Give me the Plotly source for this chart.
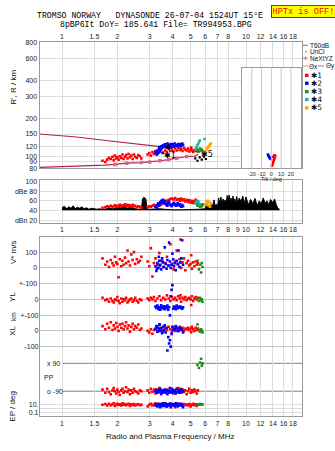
import math
import plotly.graph_objects as go

W, H = 335, 451

# ---------------- data ----------------
top_ticks = [1, 1.5, 2, 3, 4, 5, 6, 7, 8, 10, 12, 14, 16, 18]
top_ticktext = ["1", "1.5", "2", "3", "4", "5", "6", "7", "8", "10", "12", "14", "16", "18"]
amp_ticks = [1, 1.5, 2, 3, 4, 5, 6, 7, 8, 9, 10, 12, 14, 16, 18]
amp_ticktext = ["1", "1.5", "2", "3", "4", "5", "6", "7", "8", "9", "10", "12", "14", "16", "18"]
range_ticks = [80, 90, 100, 120, 150, 200, 300, 400, 600, 800]
db_ticks = [20, 40, 60, 80, 100]
db_ticktext = ["dBn 20", "40", "60", "dBe 80", "100"]

# red echoes (low + high frequency groups)
red_f = [1.66, 1.72, 1.76, 1.80, 1.84, 1.88, 1.91, 1.94, 1.97, 2.00, 2.03, 2.06, 2.10, 2.13, 2.16, 2.20, 2.23, 2.27, 2.30, 2.34,
         2.38, 2.42, 2.46, 2.50, 2.55, 2.60, 2.65, 2.70,
         2.92, 2.98, 3.04, 3.10, 3.16, 3.22, 3.30, 3.38, 3.46, 3.55, 3.64, 3.72, 3.80, 3.88, 3.96, 4.04, 4.12, 4.20, 4.28, 4.36,
         4.44, 4.52, 4.60, 4.68, 4.76, 4.84, 4.92, 5.00, 5.08, 5.16, 5.24, 5.32, 5.40, 5.48, 5.04, 4.40]
red_h = [92, 90, 94, 97, 95, 99, 93, 101, 96, 98, 94, 100, 97, 103, 95, 99, 102, 96, 104, 98,
         101, 95, 103, 99, 97, 102, 100, 96,
         103, 106, 101, 108, 104, 110, 106, 109, 112, 107, 111, 108, 114, 110, 113, 109, 115, 111, 117, 112,
         114, 110, 116, 113, 111, 115, 109, 113, 111, 108, 112, 110, 114, 109, 117, 119]
red_amp = [46, 47, 49, 48, 50, 47, 49, 51, 48, 50, 49, 52, 48, 51, 50, 53, 49, 52, 50, 51,
           48, 52, 49, 50, 47, 49, 48, 46,
           47, 49, 48, 50, 52, 49, 51, 50, 53, 55, 57, 60, 62, 64, 65, 63, 66, 62, 64, 60,
           65, 61, 63, 59, 62, 58, 61, 57, 60, 56, 59, 62, 55, 58, 57, 63]
red_vs = [60, 20, 40, 5, 50, 30, 15, 70, 35, 25, -60, 55, 10, 45, 20, 65, 30, 110, 40, 15,
          85, 50, 100, 25, 55, 35, 45, 70,
          40, 10, 125, -55, 30, 60, 20, 95, 45, 5, 30, 70, 15, 150, 25, -10, 40, 110, 20, 55,
          0, 35, 60, -15, 30, 45, 15, 25, -5, 35, 10, 40, 20, 30, 80, 180]
red_yl = [10, -5, 0, -15, 5, -10, -20, 0, -5, 15, -10, -25, 5, -15, 0, -5, 10, -20, -10, 0,
          5, -15, -5, 10, -10, -20, 0, -5,
          5, -5, 10, 0, 15, -10, 5, 20, -5, 10, 0, 25, 5, -10, 15, 0, 10, -5, 20, 5,
          -15, 10, 0, 15, -5, 5, 10, 0, 20, -10, 5, 15, 0, 10, -36, 25]
red_xl = [30, 10, 45, 20, 55, 5, 35, 15, 50, 25, 0, 40, 20, 45, 10, 30, 55, 15, 35, -5,
          25, 45, 10, 30, 20, 40, 5, 15,
          0, -10, 10, -18, 5, 15, -5, 10, 20, 0, 15, 5, 25, 10, -5, 20, 0, 15, 10, 25,
          5, 20, 0, 15, 10, 20, 5, 15, 25, 10, 0, 20, 5, 15, -8, 23]
red_pp = [-80, -100, -75, -95, -110, -85, -70, -90, -105, -80, -95, -115, -85, -75, -100, -90, -65, -95, -80, -110,
          -85, -100, -75, -90, -95, -105, -85, -90,
          -85, -100, -75, -95, -80, -105, -90, -70, -110, -85, -95, -80, -100, -90, -75, -105, -85, -95, -70, -90,
          -100, -80, -95, -85, -110, -90, -75, -100, -85, -95, -80, -90, -105, -85, -95, -75]
red_ep = [8, 12, 5, 15, 6, 10, 20, 4, 9, 14, 7, 11, 5, 18, 8, 12, 6, 9, 15, 4,
          10, 7, 13, 5, 9, 11, 6, 8,
          3, 8, 15, 5, 10, 20, 4, 12, 6, 9, 18, 3, 7, 14, 5, 11, 2, 8, 16, 6,
          10, 4, 13, 7, 9, 5, 12, 3, 8, 15, 6, 10, 4, 9, 7, 11]

blue_f = [3.22, 3.26, 3.30, 3.34, 3.38, 3.42, 3.46, 3.50, 3.54, 3.58, 3.62, 3.66, 3.70, 3.74, 3.78, 3.82, 3.86, 3.90,
          3.94, 3.98, 4.02, 4.06, 4.10, 4.15, 4.20, 4.25, 4.30, 4.35, 4.40, 4.45, 4.50, 4.55, 3.28, 3.40, 3.52, 3.36]
blue_h = [108, 104, 111, 106, 118, 113, 120, 117, 122, 119, 124, 118, 121, 126, 119, 123, 120, 125,
          118, 122, 124, 119, 126, 121, 123, 120, 125, 122, 124, 121, 126, 123, 103, 109, 106, 114]
blue_amp = [48, 50, 52, 55, 53, 57, 60, 58, 62, 56, 60, 54, 52, 50, 55, 58, 53, 51,
            49, 52, 54, 56, 53, 50, 52, 55, 51, 53, 50, 48, 52, 49, 46, 54, 59, 51]
blue_vs = [10, -20, 30, 0, 45, 20, -10, 60, 35, 5, 130, 25, -5, 50, 15, 160, 40, 0,
           20, 90, 55, 10, 30, -15, 45, 25, 110, 5, 35, 60, 175, 20, -5, 15, 40, 70]
blue_yl = [-45, -55, -40, -60, -50, -65, -38, -52, -58, -44, -62, -48, -55, -40, -66, -50, -102, 20,
           60, 90, -60, -45, -50, -63, -40, -56, -48, -52, -45, -55, -60, -50, -45, -58, -50, -62]
blue_xl = [10, 30, -5, 20, 40, 0, 15, -15, 25, 5, 35, -10, 20, -125, -40, -80, -60, -100,
           -19, 25, 5, 15, 10, 30, 20, 0, 0, 20, 15, 10, 5, -10, 25, 40, -5, 10]
blue_pp = [-90, -80, -100, -85, -95, -75, -105, -90, -85, -95, -80, -100, -90, -110, -85, -95, -70, -90,
           -100, -80, -95, -85, -90, -105, -75, -95, -85, -100, -90, -80, -95, -88, -92, -84, -98, -86]
blue_ep = [5, 10, 3, 15, 8, 2, 12, 6, 20, 4, 9, 14, 3, 7, 11, 5, 16, 2,
           8, 13, 6, 10, 4, 18, 7, 3, 12, 5, 9, 15, 6, 2, 11, 8, 4, 7]

green_f = [5.45, 5.55, 5.62, 5.70, 5.75, 5.80]
green_h = [112, 109, 115, 111, 113, 110]
green_amp = [50, 52, 48, 51, 49, 53]
green_vs = [45, -10, 20, -30, 30, 5]
green_yl = [5, -10, 10, -5, 0, -15]
green_xl = [40, 5, -5, 10, 0, -10]
green_pp = [80, 60, 95, 120, 75, 90]
green_ep = [10, 8, 12, 9, 11, 10]

teal_f = [5.30, 5.38, 5.45, 5.52, 5.60, 5.95]
teal_h = [113, 118, 122, 127, 133, 137]
teal_amp = [55, 58, 60, 57, 53, 52]

orange_f = [6.02, 6.08, 6.14, 6.20, 6.26, 6.32, 6.38, 6.44]
orange_h = [109, 112, 115, 117, 119, 121, 124, 126]
orange_amp = [52, 58, 55, 60, 50, 57, 48, 54]

uncl_f = [5.30, 5.45, 5.60, 5.75, 5.90, 6.05]
uncl_h = [96, 92, 98, 94, 99, 95]

prof_f = [0.753, 1.2, 1.7, 1.94, 2.25, 2.7, 3.0, 3.4, 3.8, 4.2, 4.76, 5.3, 5.5]
prof_h = [81.5, 83, 85, 86, 88, 89, 90, 92, 94, 96.5, 99.5, 100, 104]
nexyz_f = [1.94, 2.25, 2.7, 3.0, 3.4, 3.8, 4.2, 4.76]
nexyz_h = [86, 88, 89, 90, 92, 94, 96.5, 99.5]
upper_f = [0.753, 1.2, 1.6, 2.2, 3.0, 3.6]
upper_h = [150, 142, 135, 128, 122, 118]

tilt_red_x = [0.5, 1.0, 1.5, 2.0, 2.5, 3.0, 3.5, 4.0, 2.0, 3.0]
tilt_red_h = [84, 86, 88, 90, 93, 95, 98, 101, 99, 102]
tilt_blue_x = [-3.5, -3.0, -2.5, -2.0, -1.5, -1.0, -0.5]
tilt_blue_h = [103, 101, 100, 98, 97, 96, 95]

ampl_f = [1.00, 1.03, 1.06, 1.09, 1.12, 1.15, 1.18, 1.21, 1.25, 1.28, 1.32, 1.36, 1.40, 1.45, 1.50, 1.55, 1.60, 1.65,
          1.70, 1.80, 1.90, 2.00, 2.10, 2.20, 2.25, 2.30, 2.40, 2.50, 2.60, 2.70, 2.74, 2.78, 2.82, 2.86, 2.90, 3.00,
          3.20, 3.40, 3.60, 3.80, 4.00, 4.50, 5.00, 5.50, 6.00, 6.10, 6.20, 6.30, 6.40, 6.50, 6.60, 6.70, 6.80, 6.90,
          7.00, 7.10, 7.20, 7.30, 7.40, 7.50, 7.60, 7.70, 7.80, 7.90, 8.00, 8.10, 8.20, 8.30, 8.40, 8.50, 8.60, 8.70,
          8.80, 8.90, 9.00, 9.20, 9.40, 9.60, 9.80, 10.0, 10.3, 10.6, 10.9, 11.2, 11.5, 11.8, 12.1, 12.4, 12.7, 13.0,
          13.3, 13.6, 14.0, 14.3, 14.6, 14.9, 15.2]
ampl_db = [46, 49, 44, 48, 45, 50, 44, 47, 45, 48, 44, 46, 43, 45, 44, 43, 44, 42,
           43, 45, 44, 45, 47, 53, 45, 46, 47, 44, 43, 44, 64, 67, 66, 63, 43, 43,
           44, 44, 43, 42, 42, 42, 42, 43, 44, 54, 46, 50, 45, 56, 48, 62, 50, 53,
           47, 66, 55, 68, 52, 64, 57, 62, 53, 71, 60, 72, 58, 66, 55, 70, 58, 64,
           52, 69, 56, 66, 58, 70, 55, 68, 52, 63, 54, 65, 50, 60, 54, 66, 55, 60,
           52, 63, 56, 64, 52, 45, 43]
ampl_base = [41, 41]
ampl_base_f = [1.0, 15.2]

# ---------------- styling ----------------
RED, BLUE, GREEN, TEAL, ORANGE = "#ff0000", "#0000ff", "#228b22", "#20b2aa", "#ffa500"
CRIMSON, PINK = "#b0224a", "#e0609a"
GRID, FRAME = "#dcdcdc", "#9a9a9a"
FONT = "Liberation Sans"
TF = dict(family=FONT, size=7, color="#222")
MS = 2.6


def py(p):
    return 1 - p / H


XDOM = [39.5 / W, 302 / W]
XR = [(39.5 - 62) / 184, (302 - 62) / 184]

fig = go.Figure()


def sc(x, y, xa, ya, color, size=MS, symbol="square"):
    fig.add_trace(go.Scatter(x=x, y=y, xaxis=xa, yaxis=ya, mode="markers",
                             marker=dict(color=color, size=size, symbol=symbol, line=dict(width=0)),
                             showlegend=False, hoverinfo="skip"))


# top panel lines
fig.add_trace(go.Scatter(x=upper_f, y=upper_h, xaxis="x", yaxis="y", mode="lines",
                         line=dict(color=CRIMSON, width=1.2), showlegend=False, hoverinfo="skip"))
fig.add_trace(go.Scatter(x=prof_f, y=prof_h, xaxis="x", yaxis="y", mode="lines",
                         line=dict(color=CRIMSON, width=1.2), showlegend=False, hoverinfo="skip"))
sc(nexyz_f, nexyz_h, "x", "y", PINK, size=3.5)
sc(red_f, red_h, "x", "y", RED)
sc(blue_f, blue_h, "x", "y", BLUE)
sc(green_f, green_h, "x", "y", GREEN)
sc(teal_f, teal_h, "x", "y", TEAL)
sc(orange_f, orange_h, "x", "y", ORANGE)
sc(uncl_f, uncl_h, "x", "y", "black", size=2.2)

# inset tilt
sc(tilt_red_x, tilt_red_h, "x2", "y2", RED, size=2.5)
sc(tilt_blue_x, tilt_blue_h, "x2", "y2", BLUE, size=2.5)

# amplitude panel
fig.add_trace(go.Scatter(x=ampl_base_f, y=ampl_base, xaxis="x3", yaxis="y3", mode="lines",
                         line=dict(width=0, color="black"), showlegend=False, hoverinfo="skip"))
fig.add_trace(go.Scatter(x=ampl_f, y=ampl_db, xaxis="x3", yaxis="y3", mode="lines", fill="tonexty",
                         fillcolor="black", line=dict(color="black", width=1), showlegend=False, hoverinfo="skip"))
sc(red_f, red_amp, "x3", "y3", RED)
sc(blue_f, blue_amp, "x3", "y3", BLUE)
sc(green_f, green_amp, "x3", "y3", GREEN)
sc(teal_f, teal_amp, "x3", "y3", TEAL)
sc(orange_f, orange_amp, "x3", "y3", ORANGE)

# lower panel bands
for f, c, vs, yl, xl, pp, ep in [
    (red_f, RED, red_vs, red_yl, red_xl, red_pp, red_ep),
    (blue_f, BLUE, blue_vs, blue_yl, blue_xl, blue_pp, blue_ep),
    (green_f, GREEN, green_vs, green_yl, green_xl, green_pp, green_ep),
]:
    sc(f, vs, "x4", "y4", c)
    sc(f, yl, "x4", "y5", c)
    sc(f, xl, "x4", "y6", c)
    sc(f, pp, "x4", "y7", c)
    sc(f, ep, "x4", "y8", c)

common_x = dict(type="log", range=XR, domain=XDOM, showline=True, mirror=True, linecolor=FRAME,
                linewidth=1, showgrid=True, gridcolor=GRID, ticks="", tickfont=TF, zeroline=False,
                tickangle=0)

band = dict(domain=[py(419), py(237)], anchor="x4", tickfont=TF, ticks="", zeroline=False)

fig.update_layout(
    width=W, height=H, margin=dict(l=0, r=0, t=0, b=0),
    paper_bgcolor="white", plot_bgcolor="white", showlegend=False,
    xaxis=dict(common_x, side="top", anchor="y", tickmode="array", tickvals=top_ticks, ticktext=top_ticktext),
    yaxis=dict(type="log", range=[math.log10(80), math.log10(800)], domain=[py(167), py(39)], anchor="x",
               tickmode="array", tickvals=range_ticks, ticktext=[str(v) for v in range_ticks],
               showline=True, mirror=True, linecolor=FRAME, showgrid=True, gridcolor=GRID, ticks="",
               tickfont=TF, zeroline=False),
    xaxis2=dict(domain=[242 / W, 300.7 / W], range=[-30, 30], anchor="y2", tickmode="array",
                tickvals=[-20, -10, 0, 10, 20], ticktext=["-20", "-10", "0", "10", "20"], tickangle=0,
                showgrid=False, showline=True, mirror=True, linecolor=FRAME, ticks="",
                tickfont=dict(family=FONT, size=5.5, color="#222"), zeroline=False),
    yaxis2=dict(type="log", range=[math.log10(80), math.log10(505)], domain=[py(167), py(64.7)], anchor="x2",
                showticklabels=False, showgrid=False, showline=True, mirror=True, linecolor=FRAME,
                ticks="", zeroline=False),
    xaxis3=dict(common_x, anchor="y3", tickmode="array", tickvals=amp_ticks, ticktext=amp_ticktext),
    yaxis3=dict(range=[16, 102], domain=[py(222), py(179)], anchor="x3", tickmode="array",
                tickvals=db_ticks, ticktext=db_ticktext, showline=True, mirror=True, linecolor=FRAME,
                showgrid=True, gridcolor=GRID, ticks="", tickfont=TF, zeroline=False),
    xaxis4=dict(common_x, anchor="y4", tickmode="array", tickvals=top_ticks, ticktext=top_ticktext),
    yaxis4=dict(band, range=[-943.75, 193.75], tickmode="array", tickvals=[100, 0, -100],
                ticktext=["100", "0", "+-100"], showgrid=True, gridcolor="#c4c4c4",
                showline=True, mirror=True, linecolor=FRAME),
    yaxis5=dict(band, overlaying="y4", range=[-743.75, 393.75], tickmode="array", tickvals=[0, -100],
                ticktext=["0", "+-100"], showgrid=True, gridcolor="#c4c4c4", showline=False),
    yaxis6=dict(band, overlaying="y4", range=[-543.75, 593.75], tickmode="array", tickvals=[0, -100],
                ticktext=["0", "-100"], showgrid=True, gridcolor="#c4c4c4", showline=False),
    yaxis7=dict(band, overlaying="y4", range=[-253.5, 904.3], showticklabels=False, showgrid=False,
                showline=False),
    yaxis8=dict(band, overlaying="y4", type="log", range=[-2.075, 43.425], tickmode="array",
                tickvals=[10, 1, 0.1], ticktext=["10.", "", "0.1"], showgrid=True, gridcolor=GRID,
                showline=False),
)

shapes = []
# inset background & grid
shapes.append(dict(type="rect", xref="paper", yref="paper", x0=242 / W, x1=300.7 / W, y0=py(167), y1=py(64.7),
                   fillcolor="white", line=dict(width=0), layer="between"))
for t in [-20, -10, 0, 10, 20]:
    shapes.append(dict(type="line", xref="x2", yref="paper", x0=t, x1=t, y0=py(167), y1=py(64.7),
                       line=dict(color="#c8c8d0", width=1), layer="above"))
# PP reference lines
for v in [90, -90]:
    shapes.append(dict(type="line", xref="paper", yref="y7", x0=62 / W, x1=302 / W, y0=v, y1=v,
                       line=dict(color="#808080", width=1), layer="between"))
# noise level line
shapes.append(dict(type="line", xref="paper", yref="y3", x0=XDOM[0], x1=XDOM[1], y0=20, y1=20,
                   line=dict(color="#a8a8e0", width=1), layer="between"))

# legend decorations
shapes.append(dict(type="line", xref="paper", yref="paper", x0=303 / W, x1=308 / W, y0=py(42), y1=py(42),
                   line=dict(color="#a0a0a0", width=1.5)))
shapes.append(dict(type="rect", xref="paper", yref="paper", x0=305.5 / W, x1=306.5 / W, y0=py(49), y1=py(48),
                   fillcolor="black", line=dict(width=0)))
shapes.append(dict(type="line", xref="paper", yref="paper", x0=303 / W, x1=308 / W, y0=py(55), y1=py(55),
                   line=dict(color=PINK, width=1)))
shapes.append(dict(type="line", xref="paper", yref="paper", x0=305.5 / W, x1=305.5 / W, y0=py(57), y1=py(53),
                   line=dict(color=PINK, width=1)))
shapes.append(dict(type="line", xref="paper", yref="paper", x0=303 / W, x1=308 / W, y0=py(63), y1=py(63),
                   line=dict(color="#f08070", width=1)))
shapes.append(dict(type="line", xref="paper", yref="paper", x0=318 / W, x1=324 / W, y0=py(63), y1=py(63),
                   line=dict(color="#8080f0", width=1)))
leg_items = [(RED, 72.5, "✱1"), (BLUE, 80.5, "✱2"), (GREEN, 89, "✱3"), (TEAL, 97, "✱4"), (ORANGE, 105.5, "✱5")]
for col, yy, _ in leg_items:
    shapes.append(dict(type="rect", xref="paper", yref="paper", x0=305 / W, x1=308.5 / W, y0=py(yy + 1.7),
                       y1=py(yy - 1.7), fillcolor=col, line=dict(width=0)))

fig.update_layout(shapes=shapes)

ann = []
LF = dict(family=FONT, size=6.5, color="#111")


def A(x, y, text, font=LF, xanchor="left", **kw):
    ann.append(dict(x=x / W, y=py(y), xref="paper", yref="paper", text=text, showarrow=False,
                    xanchor=xanchor, yanchor="middle", font=font, borderpad=0, **kw))


A(309, 42, "T60dB")
A(309, 48.5, "UnCl")
A(309, 55, "NeXtYZ")
A(308, 63, "Θx", font=dict(family=FONT, size=6.5, color="#111"))
A(325, 63, "Θy", font=dict(family=FONT, size=6.5, color="#111"))
for col, yy, txt in leg_items:
    A(310, yy, txt, font=dict(family="DejaVu Sans", size=7.5, color="#111"))

MONO = "Liberation Mono"
A(150, 12, "TROMSO NORWAY\u00a0\u00a0\u00a0DYNASONDE 26-07-04 1524UT 15°E",
  font=dict(family=MONO, size=8.2, color="black"), xanchor="center")
A(156, 20.5, "8pBP6It DoY= 185.641 File= TR994953.BPG",
  font=dict(family=MONO, size=8.2, color="black"), xanchor="center")
ann.append(dict(x=303 / W, y=py(7.5), xref="paper", yref="paper", text="HPTx is OFF!", showarrow=False,
                xanchor="center", yanchor="middle", font=dict(family=MONO, size=8.6, color="#ff0000"),
                bgcolor="#ffff00", bordercolor="#ff0000", borderwidth=1, borderpad=0.5))

A(271, 177.5, "Tilt / deg", font=dict(family=FONT, size=5.5, color="#222"), xanchor="center")

TB = dict(family=FONT, size=8, color="#111")
A(14, 85, "R', R / km", font=TB, xanchor="center", textangle=-90)
A(13, 252, "V* m/s", font=TB, xanchor="center", textangle=-90)
A(13, 297.5, "YL", font=TB, xanchor="center", textangle=-90)
A(13, 318, "km", font=dict(family=FONT, size=6.5, color="#111"), xanchor="center", textangle=-90)
A(13, 332, "XL", font=TB, xanchor="center", textangle=-90)
A(13, 409, "EP / deg", font=TB, xanchor="center", textangle=-90)

A(46, 365, "x 90", font=TF)
A(42.5, 379, "PP", font=TF)
A(46, 393.3, "o -90", font=TF)
A(170, 439, "Radio and Plasma Frequency / MHz", font=dict(family=FONT, size=8, color="#111"), xanchor="center")

# group labels inside the range panel
for fx, hy, txt in [(3.8, 117, "✱"), (3.85, 101, "✱1"), (6.1, 104, "✱5")]:
    ann.append(dict(x=math.log10(fx), y=math.log10(hy), xref="x", yref="y", text=txt, showarrow=False,
                    xanchor="center", yanchor="middle", font=dict(family="DejaVu Sans", size=8, color="black")))

fig.update_layout(annotations=ann)
fig.write_html("out.html")
